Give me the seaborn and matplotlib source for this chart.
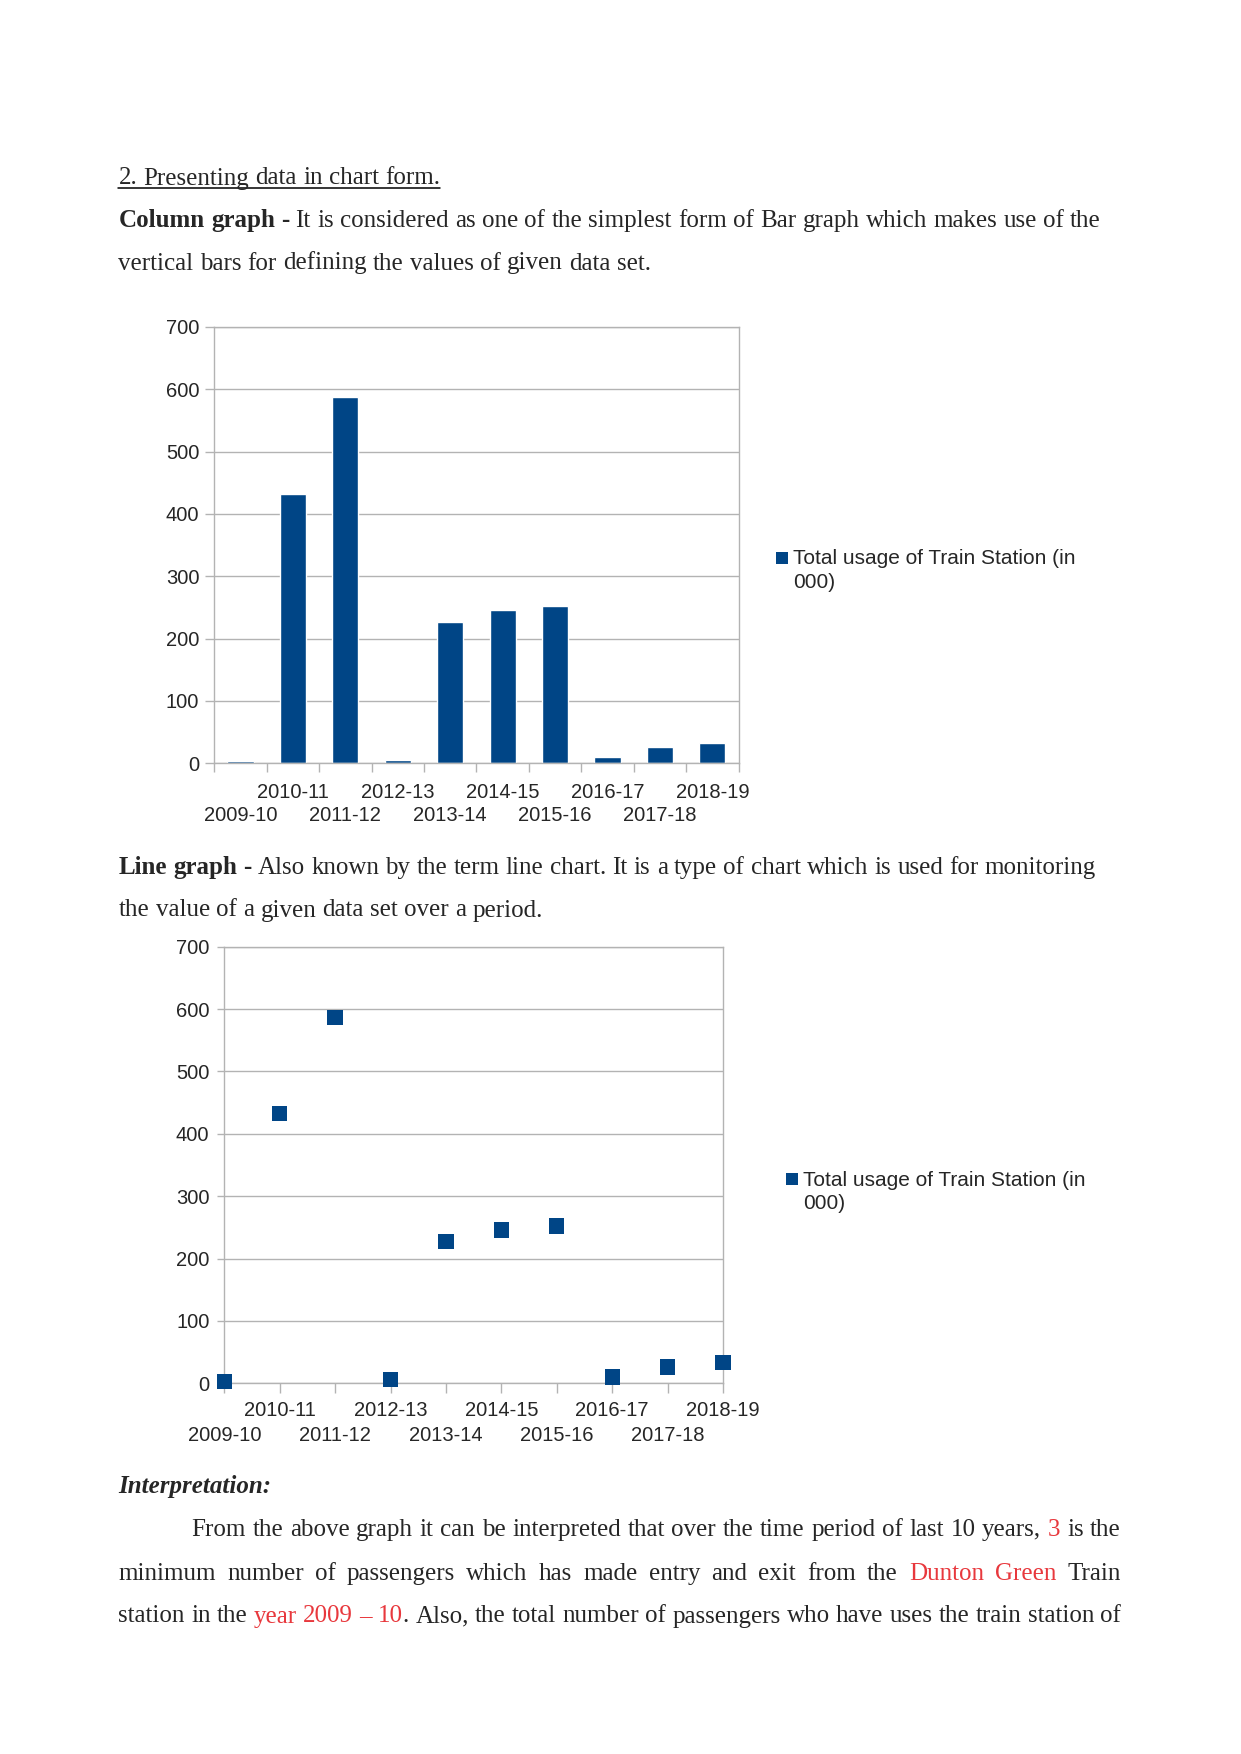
import matplotlib
matplotlib.use('Agg')
import matplotlib.pyplot as plt
from matplotlib.lines import Line2D
import seaborn as sns
import pandas as pd

# data
years = ['2009-10', '2010-11', '2011-12', '2012-13', '2013-14',
         '2014-15', '2015-16', '2016-17', '2017-18', '2018-19']
usage = [3, 432, 587, 6, 227, 246, 252, 10, 26, 33]
series_name = 'Total usage of Train Station (in\n000)'
y_ticks = [0, 100, 200, 300, 400, 500, 600, 700]

W, H = 1241, 1754
BLUE = '#004586'
GRID = '#b3b3b3'
RED = '#e8383d'
SERIF = ['Liberation Serif', 'DejaVu Serif']
LEFT, RIGHT = 118.5, 1121
TICK_FS = 14.5
LEG_FS = 15

sns.set_theme(style='white')
plt.rcParams['font.family'] = ['Liberation Sans', 'DejaVu Sans']

df = pd.DataFrame({'year': years, 'usage': usage})
pos = list(range(len(years)))
odd_pos = pos[1::2]
even_pos = pos[0::2]

fig = plt.figure(figsize=(W / 100, H / 100), dpi=100)
fig.patch.set_facecolor('white')
renderer = fig.canvas.get_renderer()


def box(l, t, r, b):
    return [l / W, 1 - b / H, (r - l) / W, (b - t) / H]


def text_line(parts, y, x0=LEFT, justify=False, size=18):
    # parts: (text, props); a leading space means a gap before the part
    toks = []
    for text, props in parts:
        words = text.split(' ')
        for i, w in enumerate(words):
            if not w:
                continue
            gap = i > 0 or text.startswith(' ')
            toks.append((w, props, gap))
    arts, widths = [], []
    for w, props, gap in toks:
        t = fig.text(0, 1 - y / H, w, fontsize=size, family=SERIF,
                     va='baseline', ha='left', **props)
        arts.append(t)
        widths.append(t.get_window_extent(renderer).width)
    probe = fig.text(0, 0, 'a a', fontsize=size, family=SERIF)
    probe2 = fig.text(0, 0, 'aa', fontsize=size, family=SERIF)
    space = probe.get_window_extent(renderer).width - probe2.get_window_extent(renderer).width
    probe.remove()
    probe2.remove()
    ngaps = sum(1 for k, tk in enumerate(toks) if k > 0 and tk[2])
    if justify and ngaps:
        space = (RIGHT - x0 - sum(widths)) / ngaps
    x = x0
    for k, (t, wd, tk) in enumerate(zip(arts, widths, toks)):
        if k > 0 and tk[2]:
            x += space
        t.set_x(x / W)
        x += wd
    return x


normal = {}
bold = {'weight': 'bold'}
italic_bold = {'weight': 'bold', 'style': 'italic'}
red = {'color': RED}

# heading with underline
x_end = text_line([('2. Presenting data in chart form.', normal)], 184.5)
fig.add_artist(Line2D([LEFT / W, x_end / W], [1 - 187.5 / H, 1 - 187.5 / H],
                      color='black', lw=1.1))

text_line([('Column graph -', bold),
           (' It is considered as one of the simplest form of Bar graph which makes use of the', normal)],
          227)
text_line([('vertical bars for defining the values of given data set.', normal)], 269.5)

text_line([('Line graph -', bold),
           (' Also known by the term line chart. It is a type of chart which is used for monitoring', normal)],
          874)
text_line([('the value of a given data set over a period.', normal)], 916.5)

text_line([('Interpretation:', italic_bold)], 1493)
text_line([('From the above graph it can be interpreted that over the time period of last 10 years,', normal),
           (' 3', red), (' is the', normal)], 1536, x0=191.5, justify=True)
text_line([('minimum number of passengers which has made entry and exit from the', normal),
           (' Dunton Green', red), (' Train', normal)], 1580, justify=True)
text_line([('station in the', normal), (' year 2009 \u2013 10', red),
           ('. Also, the total number of passengers who have uses the train station of', normal)],
          1622.5, justify=True)


def style_axes(ax):
    ax.set_facecolor('white')
    for s in ax.spines.values():
        s.set_color(GRID)
        s.set_linewidth(1.0)
    ax.set_ylim(0, 700)
    ax.set_yticks(y_ticks)
    ax.yaxis.grid(True, color=GRID, linewidth=1.0)
    ax.xaxis.grid(False)
    ax.set_axisbelow(True)
    ax.set_xlabel('')
    ax.set_ylabel('')


def second_row(ax, pad):
    # lower row of the staggered category labels
    sec = ax.secondary_xaxis('bottom')
    sec.set_xticks(even_pos)
    sec.set_xticklabels([years[i] for i in even_pos], fontsize=TICK_FS)
    sec.tick_params(axis='x', length=0, pad=pad)
    sec.spines['bottom'].set_visible(False)
    return sec


def add_legend(ax, x, y):
    handle = Line2D([], [], marker='s', linestyle='none', markersize=8.9,
                    markerfacecolor=BLUE, markeredgewidth=0)
    leg = ax.legend([handle], [series_name], loc='upper left',
                    bbox_to_anchor=(x / W, 1 - y / H),
                    bbox_transform=fig.transFigure, frameon=False,
                    borderpad=0, borderaxespad=0, handlelength=0.59,
                    handleheight=1.2, handletextpad=0.27, fontsize=LEG_FS)
    for t in leg.get_texts():
        t.set_linespacing(1.32)
    for col in leg._legend_handle_box.get_children():
        for item in col.get_children():
            item.align = 'top'
    return leg


# column graph
ax1 = fig.add_axes(box(214.3, 326.8, 738.6, 763.3))
sns.barplot(data=df, x='year', y='usage', color=BLUE, saturation=1,
            width=0.5, ax=ax1)
style_axes(ax1)
ax1.set_xlim(-0.5, len(years) - 0.5)
ax1.set_xticks([i - 0.5 for i in range(len(years) + 1)])
ax1.set_xticklabels([])
ax1.set_xticks(odd_pos, minor=True)
ax1.set_xticklabels([years[i] for i in odd_pos], minor=True, fontsize=TICK_FS)
ax1.tick_params(axis='x', which='major', direction='out', length=6.5,
                width=1, color=GRID, bottom=True)
ax1.tick_params(axis='x', which='minor', length=0, pad=14.1, bottom=True)
ax1.tick_params(axis='y', direction='out', length=6.5, width=1, color=GRID,
                pad=4.3, labelsize=TICK_FS, left=True)
second_row(ax1, 14.1 + 16.9)
add_legend(ax1, 775.5, 549)

# line graph (markers only)
ax2 = fig.add_axes(box(224.3, 946.7, 723, 1383.3))
sns.scatterplot(data=df, x='year', y='usage', marker='s', s=121, color=BLUE,
                edgecolor='none', linewidth=0, ax=ax2, clip_on=False, zorder=5,
                legend=False)
style_axes(ax2)
ax2.set_xlim(0, len(years) - 1)
ax2.set_xticks(pos)
ax2.set_xticklabels([y if i % 2 else '' for i, y in enumerate(years)],
                    fontsize=TICK_FS)
ax2.tick_params(axis='x', direction='out', length=7, width=1, color=GRID,
                pad=5.8, bottom=True)
ax2.tick_params(axis='y', direction='out', length=5, width=1, color=GRID,
                pad=5.7, labelsize=TICK_FS, left=True)
second_row(ax2, 7 + 5.8 + 17.7)
add_legend(ax2, 785.5, 1170.5)

fig.savefig('out.png', dpi=100)
